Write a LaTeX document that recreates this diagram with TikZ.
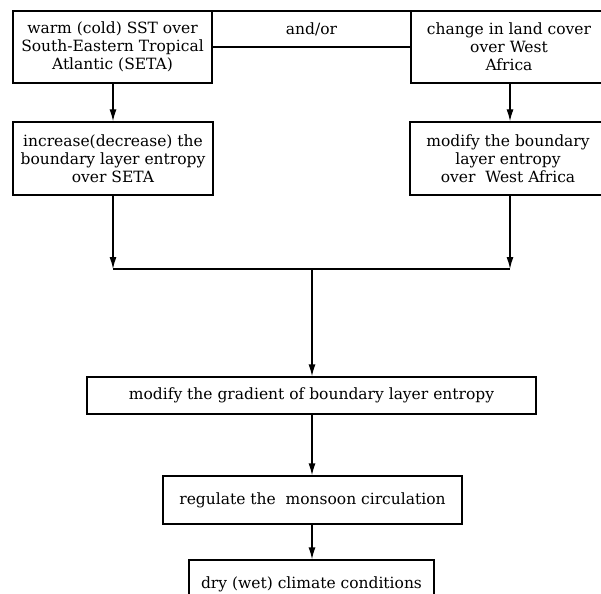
\documentclass[tikz,border=0pt]{standalone}
\usepackage{fontspec}
\setmainfont{DejaVu Serif}
\usetikzlibrary{arrows.meta,%
                positioning}

\begin{document}
\begin{tikzpicture}[x=1pt, y=-1pt,
font=\fontsize{15.5}{18}\selectfont,
%
cause/.style={rectangle, draw=black, line width=1.3pt, align=center,
inner sep=1pt},
%
effect/.style={rectangle, draw=black, line width=1.3pt, align=center,
inner sep=1pt},
%
link/.style={line width=1.3pt, -{Latex[length=12pt, width=7pt]}}]

\useasboundingbox (0,0) rectangle (601,593);

%%%%%%%%%%%%%%%%%%%%%%%%%%%%%%%%%%
\node [cause, minimum width=199pt, minimum height=72pt] (sst) at (112.5,47)
      {warm (cold) SST over\\South-Eastern Tropical\\Atlantic (SETA)};
\node [cause, minimum width=199pt, minimum height=36pt] (andor) at (311.5,29)
      {and/or};
\node [cause, minimum width=196pt, minimum height=72pt] (land) at (509,47)
      {change in land cover\\over West\\Africa};
%%%%%%%%%%%%%%%%%%%%%%%%%%%%%%%%%%
\node [effect, minimum width=200pt, minimum height=73pt] (seta) at (113,158.5)
      {increase(decrease) the\\boundary layer entropy\\over SETA};
\node [effect, minimum width=196pt, minimum height=73pt] (wafrica) at (508,158.5)
      {modify the boundary\\layer entropy\\over\ \ West Africa};
%%%%%%%%%%%%%%%%%%%%%%%%%%%%%%%%%%
\node [effect, minimum width=449pt, minimum height=37pt] (gradient) at (311.5,395.5)
      {modify the gradient of boundary layer entropy};
\node [effect, minimum width=299pt, minimum height=48pt] (monsoon) at (312.5,500)
      {regulate the\ \ monsoon circulation};
\node [effect, minimum width=245pt, minimum height=48pt] (climate) at (311.5,584)
      {dry (wet) climate conditions};

\coordinate (joinL) at (113,269);
\coordinate (joinR) at (510,269);
\coordinate (joinC) at (312,269);

\begin{scope}
  \draw[link] (sst.south -| joinL) -- (seta.north -| joinL);
  \draw[link] (land.south -| joinR) -- (wafrica.north -| joinR);
  %%%%%%%%%%%%%%%%%%%%%%%%%%%%%%%%%%%%%
  \draw[link] (seta.south -| joinL) -- (joinL);
  \draw[link] (wafrica.south -| joinR) -- (joinR);
  \draw[line width=1.3pt] (joinL) -- (joinR);
  %%%%%%%%%%%%%%%%%%%%%%%%%%%%%%%%%%%%
  \draw[link] (joinC) -- (gradient.north -| joinC);
  \draw[link] (gradient.south -| joinC) -- (monsoon.north -| joinC);
  \draw[link] (monsoon.south -| joinC) -- (climate.north -| joinC);
\end{scope}

\end{tikzpicture}
\end{document}
